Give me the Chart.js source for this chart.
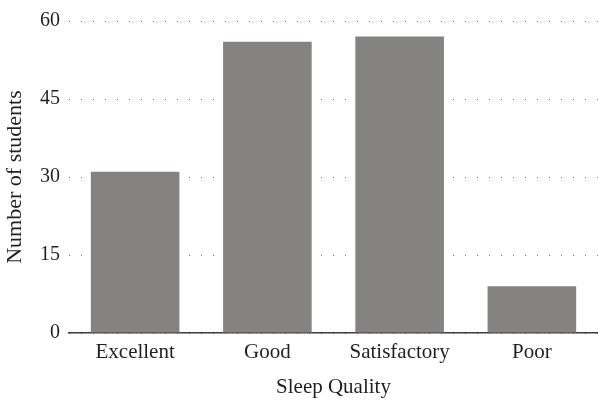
<!DOCTYPE html>
<html>
<head>
<meta charset="utf-8">
<script src="https://cdn.jsdelivr.net/npm/chart.js@4/dist/chart.umd.min.js"></script>
<style>
  html, body { margin: 0; padding: 0; background: #fff; }
  #wrap { width: 598px; height: 406px; }
</style>
</head>
<body>
<div id="wrap"><canvas id="sleepChart"></canvas></div>
<script>
/* ===== Sleep quality bar chart ===== */

const categories = ['Excellent', 'Good', 'Satisfactory', 'Poor'];
const students = [31, 56, 57, 9];
const yTicks = [0, 15, 30, 45, 60];

const serif = '"Liberation Serif", "Times New Roman", serif';
const textColor = '#231f20';

const ctx = document.getElementById('sleepChart').getContext('2d');
const sleepChart = new Chart(ctx, {
  type: 'bar',
  data: {
    labels: categories,
    datasets: [{
      data: students,
      backgroundColor: '#858381',
      borderWidth: 0,
      categoryPercentage: 1,
      barPercentage: 0.67
    }]
  },
  options: {
    responsive: true,
    maintainAspectRatio: false,
    animation: false,
    events: [],
    layout: { padding: { top: 18, right: 0, bottom: 0, left: 0 } },
    plugins: { legend: { display: false }, tooltip: { enabled: false } },
    scales: {
      x: {
        grid: { display: false, drawTicks: false },
        border: { display: true, color: '#3a3a3a', width: 1.5 },
        ticks: { color: textColor, padding: 7, font: { family: serif, size: 21 } },
        title: {
          display: true,
          text: 'Sleep Quality',
          color: textColor,
          padding: { top: 0, bottom: 6 },
          font: { family: serif, size: 21 }
        },
        afterFit: scale => { scale.height = 73; }
      },
      y: {
        min: 0,
        max: 60,
        afterBuildTicks: scale => { scale.ticks = yTicks.map(v => ({ value: v })); },
        grid: { color: '#6f6f6f', lineWidth: 1, drawTicks: false },
        border: { display: false, dash: [1, 11], dashOffset: 0 },
        ticks: { color: textColor, padding: 9, font: { family: serif, size: 20 } },
        title: {
          display: true,
          text: 'Number of students',
          color: textColor,
          padding: { top: 2, bottom: 0 },
          font: { family: serif, size: 22 }
        },
        afterFit: scale => { scale.width = 69; }
      }
    }
  }
});
</script>
</body>
</html>
